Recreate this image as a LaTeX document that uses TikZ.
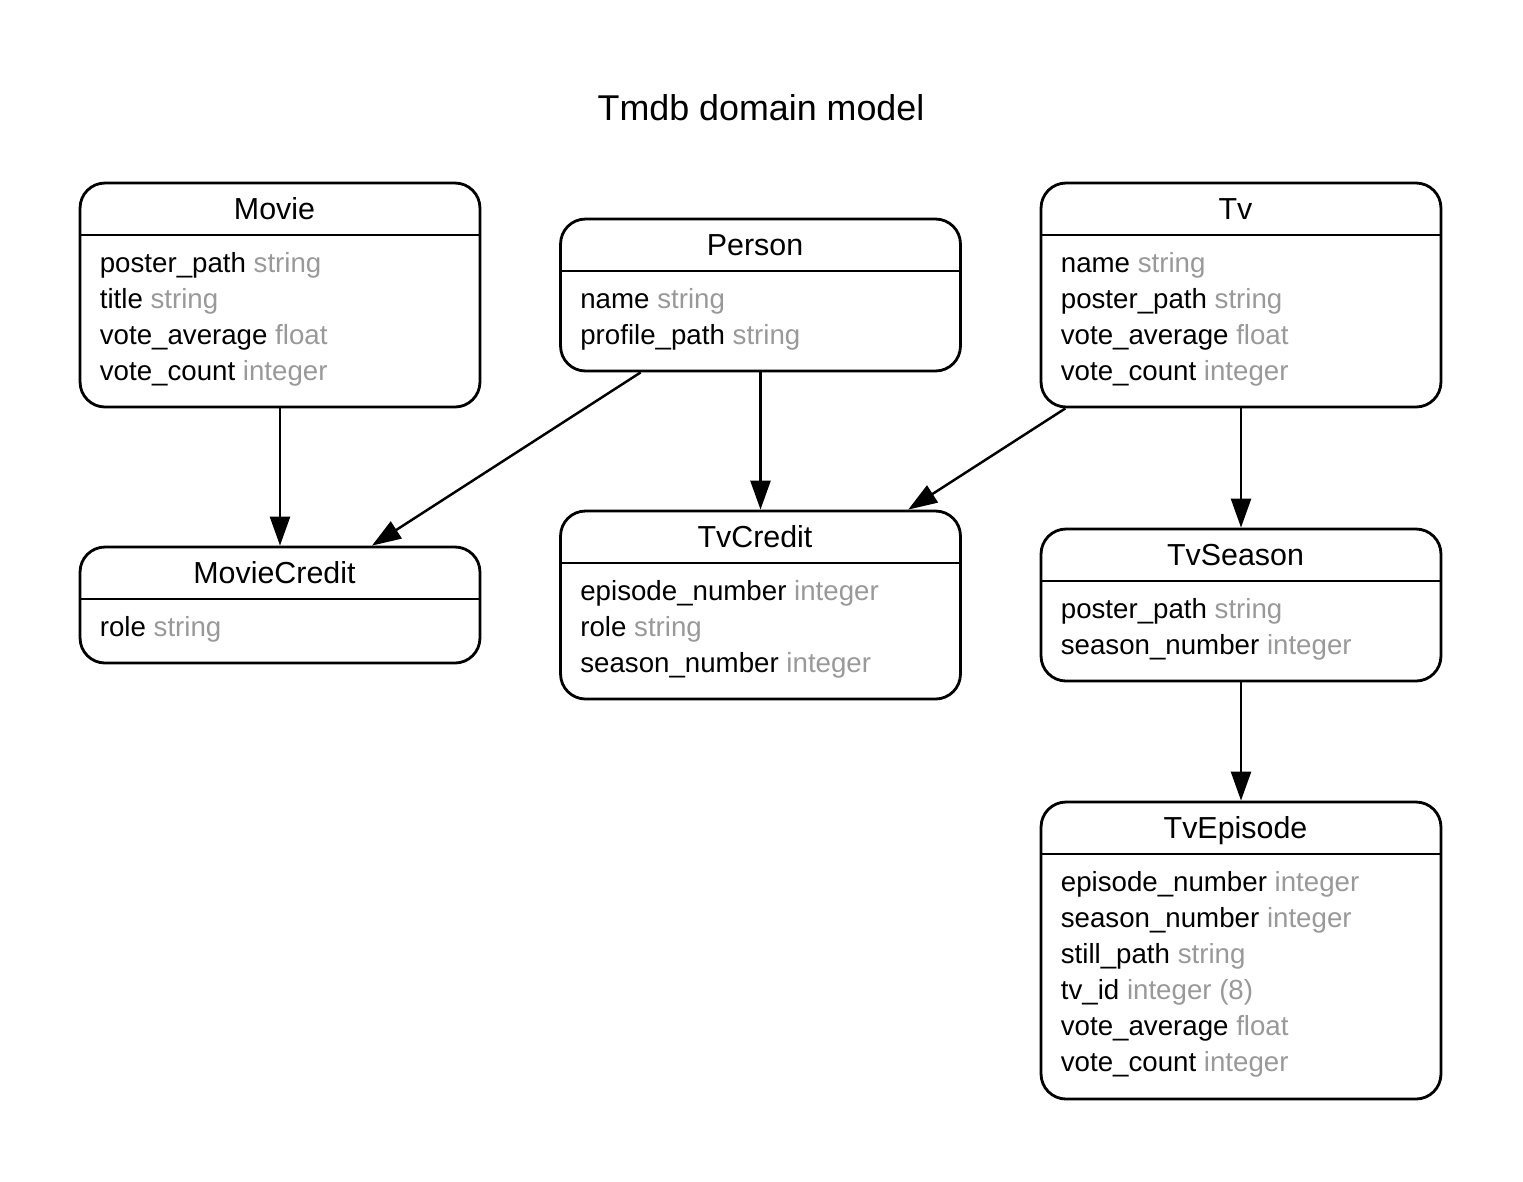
\documentclass[tikz,border=0pt]{standalone}
\usepackage{fontspec}
\setmainfont{Liberation Sans}
\usetikzlibrary{arrows.meta}
\definecolor{typegray}{RGB}{153,153,153}
\tikzset{>={Triangle[length=0.58cm,width=0.4cm]}}

% name, centre x, top y, height, title, fields
\newcommand\entity[6]{%
    \node[entity, minimum height=#4*0.02cm] (#1) at (#2,#3+#4/2) {};
    \node[head] (#1-title) at (#2-5.5,#3+36) {#5};
    \draw[sep] (#2-200,#3+52) -- (#2+200,#3+52);
    \foreach \f/\t [count=\i] in {#6}
        \node[field] (#1-\i) at (#2-180.5,#3+53+36*\i) {\f\ \textcolor{typegray}{\t}};
}

\begin{document}
\begin{tikzpicture}[x=0.02cm, y=-0.02cm,
    entity/.style={draw, line width=1.6pt, rounded corners=0.5cm, minimum width=8cm, inner sep=0pt},
    sep/.style={line width=1.6pt},
    head/.style={anchor=base, inner sep=0pt, font=\fontsize{17.3}{20}\selectfont},
    field/.style={anchor=base west, inner sep=0pt, font=\fontsize{15.75}{20}\selectfont},
    rel/.style={->, line width=1.4pt}]
    \useasboundingbox (0,0) rectangle (1523,1181);
    \node[anchor=base, inner sep=0pt, font=\fontsize{20.4}{24}\selectfont] (title) at (761,120) {Tmdb domain model};

    \entity{movie}{280}{183}{224}{Movie}{poster\_path/string, title/string, vote\_average/float, vote\_count/integer}
    \entity{person}{760.5}{219}{152}{Person}{name/string, profile\_path/string}
    \entity{tv}{1241}{183}{224}{Tv}{name/string, poster\_path/string, vote\_average/float, vote\_count/integer}
    \entity{moviecredit}{280}{547}{116}{MovieCredit}{role/string}
    \entity{tvcredit}{760.5}{511}{188}{TvCredit}{episode\_number/integer, role/string, season\_number/integer}
    \entity{tvseason}{1241}{529}{152}{TvSeason}{poster\_path/string, season\_number/integer}
    \entity{tvepisode}{1241}{802}{297}{TvEpisode}{episode\_number/integer, season\_number/integer, still\_path/string, tv\_id/integer (8), vote\_average/float, vote\_count/integer}

    \draw[rel] (movie) -- (moviecredit);
    \draw[rel] (person) -- (moviecredit);
    \draw[rel] (person) -- (tvcredit);
    \draw[rel] (tv) -- (tvcredit);
    \draw[rel] (tv) -- (tvseason);
    \draw[rel] (tvseason) -- (tvepisode);
\end{tikzpicture}
\end{document}
